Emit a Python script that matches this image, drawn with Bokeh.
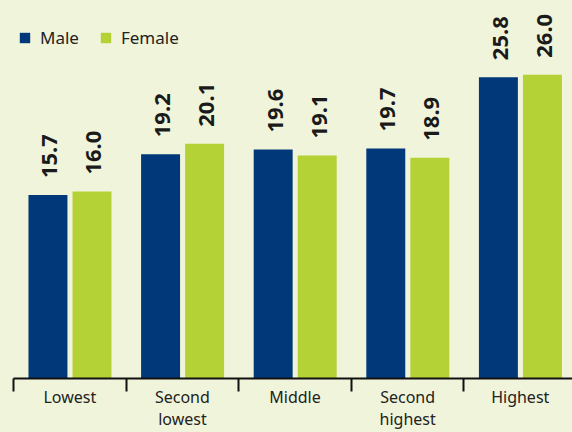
import math
from bokeh.plotting import figure
from bokeh.models import FixedTicker, ColumnDataSource, Legend, LegendItem, Range1d
from bokeh.core.properties import value
from bokeh.embed import file_html
from bokeh.resources import INLINE

categories = ["Lowest", "Second\nlowest", "Middle", "Second\nhighest", "Highest"]
male = [15.7, 19.2, 19.6, 19.7, 25.8]
female = [16.0, 20.1, 19.1, 18.9, 26.0]
series_names = ["Male", "Female"]

BG = "#f0f4db"
NAVY = "#00387a"
LIME = "#b4d236"
FONT = "Noto Sans"

idx = list(range(len(categories)))
centers = [i + 0.5 for i in idx]
male_x = [i + 0.306 for i in idx]
female_x = [i + 0.697 for i in idx]

p = figure(width=572, height=432, output_backend="svg", toolbar_location=None,
           x_range=Range1d(0, 4.964), y_range=Range1d(0, 32.36),
           min_border_left=13, min_border_right=0, min_border_top=0, min_border_bottom=0,
           background_fill_color=BG, border_fill_color=BG, outline_line_color=None)

src_m = ColumnDataSource(dict(x=male_x, top=male, lab=[f"{v:.1f}" for v in male]))
src_f = ColumnDataSource(dict(x=female_x, top=female, lab=[f"{v:.1f}" for v in female]))

rm = p.vbar(x="x", top="top", width=0.346, bottom=0, source=src_m, fill_color=NAVY, line_color=None)
rf = p.vbar(x="x", top="top", width=0.346, bottom=0, source=src_f, fill_color=LIME, line_color=None)

for src in (src_m, src_f):
    p.text(x="x", y="top", text="lab", source=src, angle=math.pi / 2,
           text_align="left", text_baseline="middle", y_offset=-17, x_offset=2,
           text_font=value(FONT), text_font_style="bold", text_font_size="22px",
           text_color="#1a1a1a")

p.yaxis.visible = False
p.grid.visible = False

ax = p.xaxis[0]
ax.ticker = FixedTicker(ticks=centers, minor_ticks=[0, 1, 2, 3, 4, 5])
ax.major_label_overrides = {c: lab for c, lab in zip(centers, categories)}
ax.major_tick_out = 0
ax.major_tick_in = 0
ax.minor_tick_out = 13
ax.minor_tick_in = 0
ax.minor_tick_line_width = 2
ax.minor_tick_line_color = "#111111"
ax.axis_line_width = 2
ax.axis_line_color = "#111111"
ax.major_label_text_font = FONT
ax.major_label_text_font_size = "16px"
ax.major_label_text_color = "#222222"
ax.major_label_standoff = -6
ax.major_label_text_line_height = 1.0

legend = Legend(items=[LegendItem(label=series_names[0], renderers=[rm]),
                       LegendItem(label=series_names[1], renderers=[rf])],
                orientation="horizontal", location=(5, 329),
                margin=0, padding=0, spacing=20,
                glyph_width=13, glyph_height=13, label_height=20, label_standoff=9,
                label_text_font=FONT, label_text_font_size="17px", label_text_color="#222222",
                background_fill_alpha=0, border_line_color=None)
p.add_layout(legend, "center")

html = file_html(p, INLINE)
html = html.replace("<head>", "<head><style>body{background:%s;}</style>" % BG, 1)
open("out.html", "w").write(html)
